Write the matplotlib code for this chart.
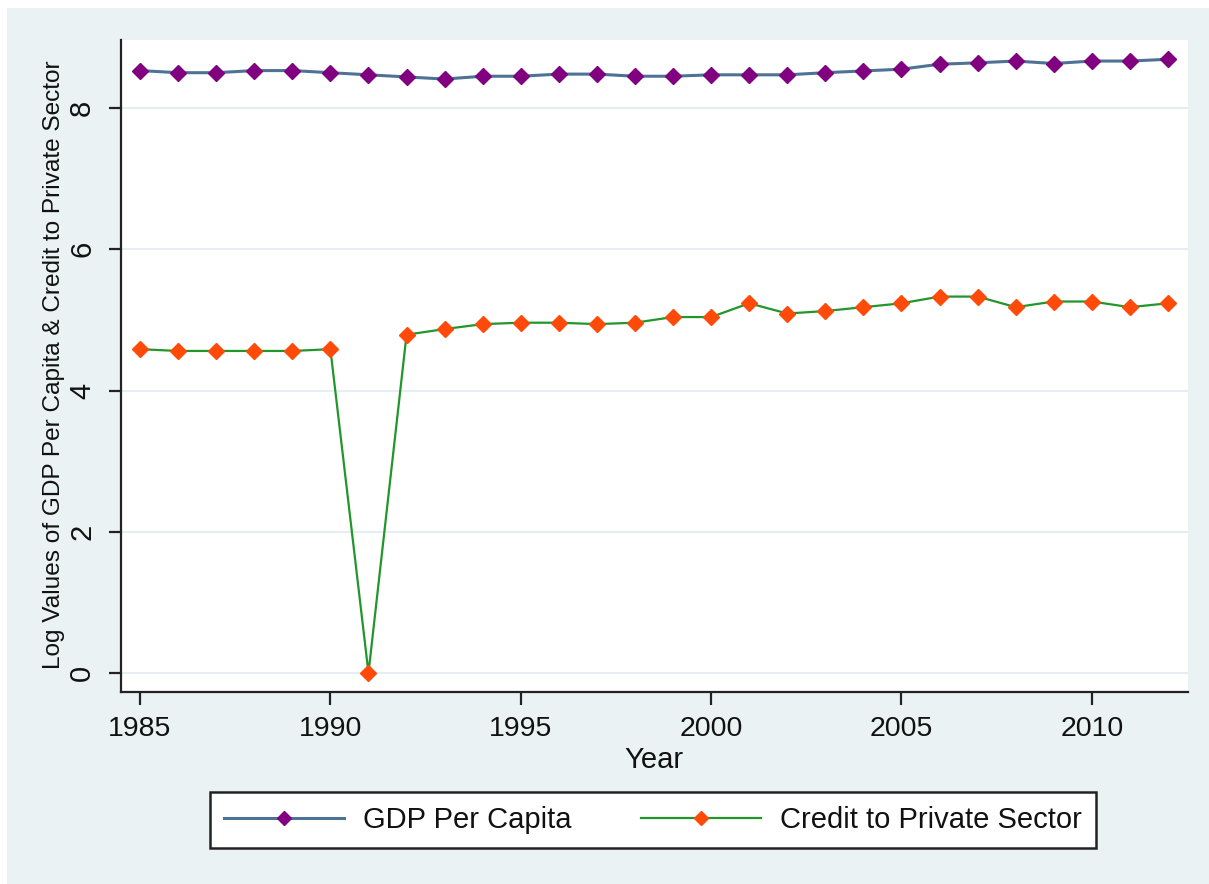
import matplotlib
matplotlib.use("Agg")
import matplotlib.pyplot as plt
from matplotlib.patches import Rectangle

years = list(range(1985, 2013))
gdp_per_capita = [8.53, 8.50, 8.50, 8.53, 8.53, 8.50, 8.47, 8.44, 8.41, 8.45,
                  8.45, 8.48, 8.48, 8.45, 8.45, 8.47, 8.47, 8.47, 8.50, 8.525,
                  8.55, 8.62, 8.64, 8.665, 8.63, 8.665, 8.665, 8.69]
credit_private = [4.585, 4.56, 4.56, 4.56, 4.56, 4.585, 0.0, 4.79, 4.87, 4.94,
                  4.96, 4.96, 4.94, 4.96, 5.04, 5.04, 5.235, 5.09, 5.125, 5.18,
                  5.235, 5.33, 5.33, 5.18, 5.26, 5.26, 5.18, 5.235]
x_ticks = [1985, 1990, 1995, 2000, 2005, 2010]
y_ticks = [0, 2, 4, 6, 8]
series_labels = ["GDP Per Capita", "Credit to Private Sector"]

BG = "#EAF2F3"
NARROW = ["Liberation Sans Narrow", "Liberation Sans", "DejaVu Sans"]
REG = ["Liberation Sans", "DejaVu Sans"]

W, H = 1209, 884
fig = plt.figure(figsize=(W / 100, H / 100), dpi=100)
fig.patch.set_facecolor("white")
fig.patches.append(Rectangle((7 / W, 0), 1 - 7 / W, 1 - 8 / H, transform=fig.transFigure,
                             facecolor=BG, edgecolor="none", zorder=-10))

ax = fig.add_axes([121 / W, (H - 692) / H, (1188 - 121) / W, (692 - 40) / H])
ax.set_facecolor("white")

ax.plot(years, gdp_per_capita, color="#4E7294", lw=2.2, marker="D", ms=8,
        mfc="#800080", mec="#800080", label=series_labels[0], zorder=3)
ax.plot(years, credit_private, color="#22962A", lw=1.6, marker="D", ms=8,
        mfc="#FF4A0A", mec="#FF4A0A", label=series_labels[1], zorder=3)

ax.set_xlim(1984.50, 2012.525)
ax.set_ylim(-0.269, 8.963)
ax.set_xticks(x_ticks)
ax.set_yticks(y_ticks)
ax.grid(axis="y", color="#E6EEF1", lw=1.5)
ax.set_axisbelow(True)

for s in ["top", "right"]:
    ax.spines[s].set_visible(False)
for s in ["left", "bottom"]:
    ax.spines[s].set_color("#222222")
    ax.spines[s].set_linewidth(1.6)

ax.tick_params(axis="both", direction="out", length=9, width=1.6, color="#222222")
ax.tick_params(axis="x", pad=8)
ax.tick_params(axis="y", pad=19)
for t in ax.get_xticklabels():
    t.set_fontfamily(NARROW)
    t.set_fontsize(20.5)
    t.set_color("#111111")
for t in ax.get_yticklabels():
    t.set_fontfamily(NARROW)
    t.set_fontsize(21)
    t.set_color("#111111")
    t.set_rotation(90)
    t.set_va("center")
    t.set_ha("center")
    t.set_rotation_mode("anchor")

ax.set_ylabel("Log Values of GDP Per Capita & Credit to Private Sector",
              fontfamily=REG, fontsize=17.6, color="#111111")
ax.yaxis.label.set_va("center")
ax.yaxis.set_label_coords((54 - 121) / 1067, 0.502)

ax.set_xlabel("Year", fontfamily=NARROW, fontsize=21, color="#111111")
ax.xaxis.label.set_va("center")
ax.xaxis.set_label_coords(0.4995, (692 - 760) / 652)

leg = fig.legend(loc="center", bbox_to_anchor=((208 + 1098) / 2 / W, 1 - 820 / H),
                 ncol=2, frameon=True, fancybox=False, handlelength=4.1,
                 handletextpad=0.65, columnspacing=2.4, borderpad=0.48,
                 framealpha=1.0, facecolor="white",
                 prop={"family": NARROW, "size": 21})
leg.get_frame().set_edgecolor("#222222")
leg.get_frame().set_linewidth(1.8)
for t in leg.get_texts():
    t.set_color("#111111")
for h in leg.legend_handles:
    h.set_markersize(7)

fig.savefig("out.png", dpi=100, facecolor=fig.get_facecolor())
